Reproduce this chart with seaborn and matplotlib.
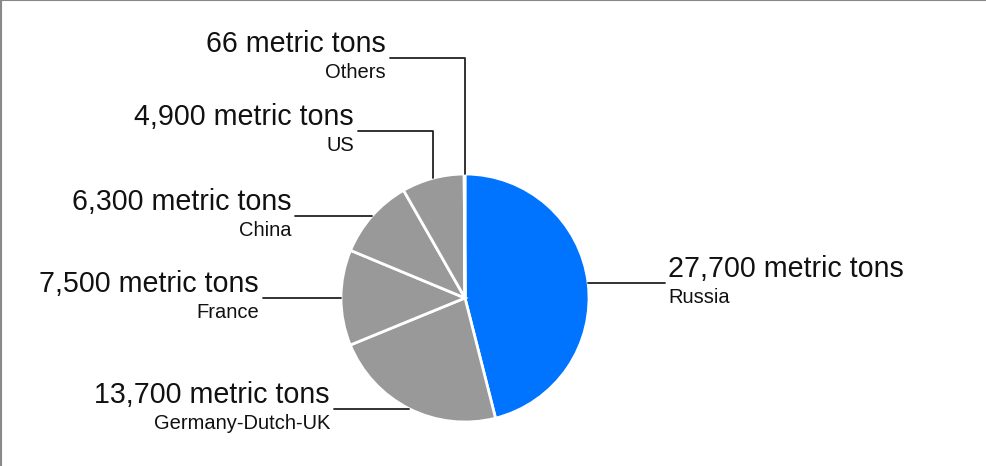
import numpy as np
import matplotlib
matplotlib.use("Agg")
import matplotlib.pyplot as plt
import seaborn as sns

# data
countries = ["Russia", "Germany-Dutch-UK", "France", "China", "US", "Others"]
tons = [27700, 13700, 7500, 6300, 4900, 66]
value_labels = ["27,700 metric tons", "13,700 metric tons", "7,500 metric tons",
                "6,300 metric tons", "4,900 metric tons", "66 metric tons"]

BLUE = "#0073ff"
GREY = "#999999"
PX = 124.0  # pixels per data unit (pie radius)


def main():
    sns.set_style("white")
    plt.rcParams["font.family"] = ["Liberation Sans", "DejaVu Sans"]

    fig = plt.figure(figsize=(9.87, 4.66), dpi=100)
    ax = fig.add_axes([0, 0, 1, 1])

    colors = [BLUE] + [GREY] * (len(tons) - 1)
    wedges, _ = ax.pie(tons, colors=colors, startangle=90, counterclock=False,
                       radius=1, center=(0, 0), frame=True,
                       wedgeprops=dict(edgecolor="white", linewidth=2))
    ax.set_xlim(-465 / PX, (987 - 465) / PX)
    ax.set_ylim(-(466 - 298) / PX, 298 / PX)
    ax.axis("off")

    # leader layout: (kind, end x in px, turn y in px)
    layout = {
        "Russia": ("h", 665, None),
        "Germany-Dutch-UK": ("h", 334, None),
        "France": ("h", 263, None),
        "China": ("h", 295, None),
        "US": ("v", 358, 131),
        "Others": ("v", 390, 58),
    }

    for w, name, val in zip(wedges, countries, value_labels):
        mid = np.deg2rad((w.theta1 + w.theta2) / 2)
        x0, y0 = np.cos(mid), np.sin(mid)
        kind, xend_px, yturn_px = layout[name]
        xend = (xend_px - 465) / PX
        if kind == "h":
            ly = y0
            ax.plot([x0, xend], [y0, y0], color="#222222", lw=1.3)
        else:
            ly = (298 - yturn_px) / PX
            ax.plot([x0, x0, xend], [y0, ly, ly], color="#222222", lw=1.3)
        right = xend > 0
        tx = xend + (3 if right else -4) / PX
        ha = "left" if right else "right"
        ax.text(tx, ly + 6 / PX, val, ha=ha, va="baseline", fontsize=20.6,
                color="#111111")
        ax.text(tx, ly - 20 / PX, name, ha=ha, va="baseline", fontsize=14.5,
                color="#111111")

    # frame lines along top and left edge
    fig.add_artist(plt.Line2D([0, 1], [0.999, 0.999], transform=fig.transFigure,
                              color="#888888", lw=1.5))
    fig.add_artist(plt.Line2D([0.001, 0.001], [0, 1], transform=fig.transFigure,
                              color="#888888", lw=1.5))

    fig.savefig("out.png", dpi=100)


if __name__ == "__main__":
    main()
